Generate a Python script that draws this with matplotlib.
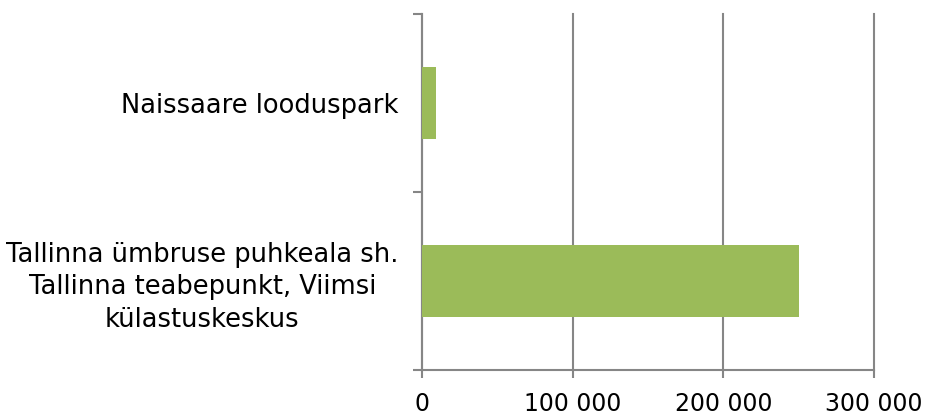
import matplotlib
matplotlib.use("Agg")
import matplotlib.pyplot as plt
from matplotlib.ticker import FuncFormatter, FixedLocator

categories = ["Tallinna ümbruse puhkeala sh.\nTallinna teabepunkt, Viimsi\nkülastuskeskus",
              "Naissaare looduspark"]
values = [250000, 9500]
xticks = [0, 100000, 200000, 300000]

plt.rcParams['font.family'] = ['DejaVu Sans']
fig = plt.figure(figsize=(9.27, 4.17), dpi=100)
ax = fig.add_axes([422/927, 47/417, (874-422)/927, (370-14)/417])

grid_c = "#868686"
ax.barh(range(len(categories)), values, height=0.4, color="#9BBB59", zorder=3)
ax.set_xlim(0, 300000)
ax.set_ylim(-0.5, len(categories) - 0.5)
ax.set_xticks(xticks)
ax.xaxis.set_major_formatter(FuncFormatter(lambda v, p: f"{int(v):,}".replace(",", " ")))
ax.set_yticks(range(len(categories)))
ax.set_yticklabels(categories)
for lab in ax.get_yticklabels():
    lab.set_multialignment('center')
    lab.set_linespacing(1.32)
ax.yaxis.set_minor_locator(FixedLocator([-0.5, 0.5, 1.5]))
ax.tick_params(axis='y', which='major', length=0, pad=17, labelsize=18.5)
ax.tick_params(axis='y', which='minor', length=6.5, width=1.5, color=grid_c)
ax.tick_params(axis='x', which='major', length=6, width=1.5, color=grid_c, pad=10, labelsize=17)
ax.grid(axis='x', color=grid_c, linewidth=1.5, zorder=0)
for gl in ax.get_xgridlines():
    gl.set_clip_on(False)
for s in ['top', 'right']:
    ax.spines[s].set_visible(False)
for s in ['left', 'bottom']:
    ax.spines[s].set_color(grid_c)
    ax.spines[s].set_linewidth(1.5)
ax.set_axisbelow(True)
fig.savefig("out.png", dpi=100)
